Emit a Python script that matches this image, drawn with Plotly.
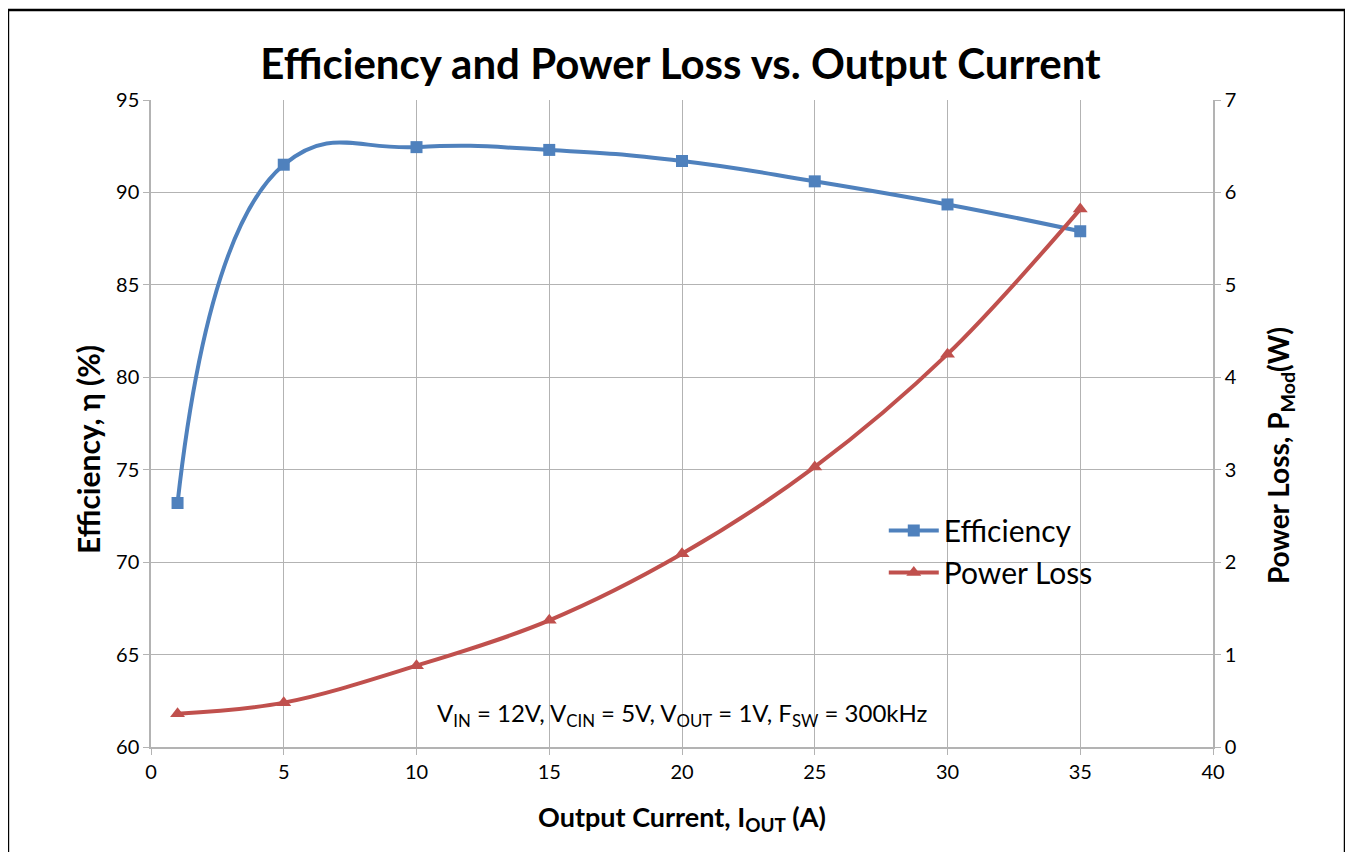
import plotly.graph_objects as go

current = [1, 5, 10, 15, 20, 25, 30, 35]
efficiency = [73.2, 91.5, 92.45, 92.3, 91.7, 90.6, 89.35, 87.9]
power_loss = [0.36, 0.48, 0.88, 1.37, 2.09, 3.03, 4.25, 5.82]

x_ticks = [0, 5, 10, 15, 20, 25, 30, 35, 40]
eff_ticks = [60, 65, 70, 75, 80, 85, 90, 95]
loss_ticks = [0, 1, 2, 3, 4, 5, 6, 7]

BLUE = "#4f81bd"
RED = "#c0504d"
GRID = "#b3b3b3"
FONT = "Lato, 'Open Sans', sans-serif"

fig = go.Figure()
fig.add_trace(go.Scatter(
    x=current, y=efficiency, name="Efficiency", mode="lines+markers",
    line=dict(color=BLUE, width=4, shape="spline", smoothing=1.3),
    marker=dict(symbol="square", size=12, color=BLUE),
    yaxis="y"))
fig.add_trace(go.Scatter(
    x=current, y=power_loss, name="Power Loss", mode="lines+markers",
    line=dict(color=RED, width=4, shape="spline", smoothing=1.0),
    marker=dict(symbol="triangle-up", size=13, color=RED),
    yaxis="y2"))

fig.update_layout(
    width=1345, height=844,
    paper_bgcolor="white", plot_bgcolor="white",
    margin=dict(l=143, r=140, t=92, b=105),
    font=dict(family=FONT, color="black", size=20),
    title=dict(text="<b>Efficiency and Power Loss vs. Output Current</b>",
               x=0.5, xanchor="center", y=0.933, yanchor="middle",
               font=dict(size=42, family=FONT)),
    xaxis=dict(range=[0, 40], tickvals=x_ticks, ticktext=[str(v) for v in x_ticks],
               showgrid=True, gridcolor=GRID, gridwidth=1,
               showline=True, linecolor=GRID, linewidth=1.5,
               ticks="outside", ticklen=6, tickcolor=GRID,
               zeroline=False, tickfont=dict(size=20),
               title=dict(text="<b>Output Current, I<sub>OUT</sub> (A)</b>",
                          font=dict(size=27), standoff=26)),
    yaxis=dict(range=[60, 95], tickvals=eff_ticks, ticktext=[str(v) for v in eff_ticks],
               showgrid=True, gridcolor=GRID, gridwidth=1,
               showline=True, linecolor=GRID, linewidth=1.5,
               ticks="outside", ticklen=6, tickcolor=GRID,
               zeroline=False, tickfont=dict(size=20)),
    yaxis2=dict(range=[0, 7], tickvals=loss_ticks, ticktext=[str(v) for v in loss_ticks],
                overlaying="y", side="right", showgrid=False,
                showline=True, linecolor=GRID, linewidth=1.5,
                ticks="outside", ticklen=6, tickcolor=GRID,
                zeroline=False, tickfont=dict(size=20)),
    legend=dict(x=0.69, y=0.375, xanchor="left", yanchor="top",
                bgcolor="rgba(255,255,255,0)", font=dict(size=30),
                itemwidth=50, tracegroupgap=0),
    showlegend=True,
)

fig.add_annotation(
    text="<b>Efficiency, η (%)</b>", textangle=-90,
    x=-0.0593, y=0.459, xref="paper", yref="paper", xanchor="center", yanchor="middle",
    showarrow=False, font=dict(size=30))
fig.add_annotation(
    text="<b>Power Loss, P<sub>Mod</sub>(W)</b>", textangle=-90,
    x=1.063, y=0.451, xref="paper", yref="paper", xanchor="center", yanchor="middle",
    showarrow=False, font=dict(size=28))

fig.add_annotation(
    text="V<sub>IN</sub> = 12V, V<sub>CIN</sub> = 5V, V<sub>OUT</sub> = 1V, F<sub>SW</sub> = 300kHz",
    x=0.5, y=0.05, xref="paper", yref="paper", xanchor="center", yanchor="middle",
    showarrow=False, font=dict(size=24))

fig.add_shape(type="rect", xref="paper", yref="paper",
              x0=-0.1347, x1=1.1243, y0=-0.2, y1=1.139,
              line=dict(color="black", width=2.5), fillcolor="rgba(0,0,0,0)", layer="above")

fig.write_html("out.html")
